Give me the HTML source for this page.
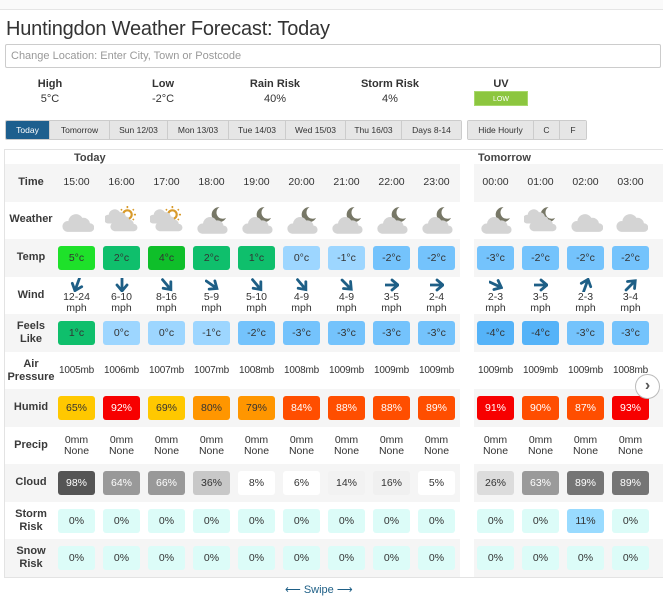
<!DOCTYPE html>
<html><head><meta charset="utf-8"><style>
*{box-sizing:border-box;margin:0;padding:0}
body{width:663px;height:600px;overflow:hidden;background:#fff;font-family:"Liberation Sans",sans-serif;color:#333;position:relative}
.a{position:absolute}
.topbar{left:0;top:0;width:663px;height:10px;border-bottom:1px solid #e5e5e5;background:#fafafa}
h1{position:absolute;left:6px;top:18px;font-size:20px;font-weight:normal;color:#333;letter-spacing:-0.2px}
.inp{left:5px;top:44px;width:656px;height:24px;border:1px solid #ccc;border-radius:2px;font-size:11px;color:#999;padding:5px 0 0 5px}
.st{width:100px;text-align:center;font-size:11px}
.st b{display:block;font-weight:bold;color:#333;margin-bottom:3px}
.uv{left:474px;top:91px;width:54px;height:15px;background:#8cc63f;color:#fff;font-size:7px;text-align:center;line-height:15px;border:1px solid #a8d86b}
.btns{top:120px;height:20px;display:flex;border:1px solid #ccc;border-radius:2px;overflow:hidden}
.btns div{font-size:8.5px;line-height:18px;text-align:center;background:#e6e6e6;border-right:1px solid #ccc;color:#333;white-space:nowrap}
.btns div.on{background:#1d5f8e;color:#fff}
.frame{left:4px;top:149px;width:662px;height:429px;border:1px solid #e3e3e3;border-right:none}
.g1{left:5px;width:455px;background:#f5f5f5}
.g2{left:474px;width:189px;background:#f5f5f5}
.row{left:0;width:663px;height:37.5px}
.lab{position:absolute;left:6px;width:50px;top:0;height:37.5px;display:flex;align-items:center;justify-content:center;text-align:center;font-size:11px;font-weight:bold;color:#3a3a3a;line-height:13px}
.c1,.c2{position:absolute;top:0;height:37.5px;display:flex}
.c1{left:54px}.c2{left:473px}
.c{width:45px;height:37.5px;display:flex;align-items:center;justify-content:center;text-align:center;font-size:10.5px;line-height:11px;color:#333;flex:0 0 45px}
.c span{display:block;width:37px;height:24px;line-height:24px;border-radius:3px;font-size:10.5px}
.p .c{font-size:10px;letter-spacing:-0.2px}
.w{color:#fff}
svg{display:block}
</style></head><body>
<svg width="0" height="0" style="position:absolute">
<defs>
<g id="cl"><path d="M6 24 a5 5 0 0 1 1-10 a7 7 0 0 1 13-3 a6 6 0 0 1 7 5 a4 4 0 0 1 0 8 z" fill="#d4d4d4"/></g>
<g id="sun"><circle cx="20" cy="8" r="4" fill="none" stroke="#d89a2a" stroke-width="2"/><g stroke="#d89a2a" stroke-width="1.5"><line x1="20" y1="0" x2="20" y2="2"/><line x1="26" y1="3" x2="25" y2="4"/><line x1="28" y1="8" x2="26" y2="8"/><line x1="26" y1="13" x2="25" y2="12"/><line x1="14" y1="3" x2="15" y2="4"/></g></g>
<g id="moon"><path d="M22 1 a7 7 0 1 0 6 10 a5.5 5.5 0 1 1 -6 -10z" fill="#777766"/></g>
<g id="ar"><path d="M0 -7 L0 4 M-5 0 L0 6 L5 0" stroke="#1e5f86" stroke-width="2.8" fill="none" stroke-linecap="round"/></g>
</defs></svg>

<div class="a topbar"></div>
<h1>Huntingdon Weather Forecast: Today</h1>
<div class="a inp">Change Location: Enter City, Town or Postcode</div>

<div class="a st" style="left:0;top:78px"><b>High</b>5°C</div>
<div class="a st" style="left:113px;top:78px"><b>Low</b>-2°C</div>
<div class="a st" style="left:225px;top:78px"><b>Rain Risk</b>40%</div>
<div class="a st" style="left:340px;top:78px"><b>Storm Risk</b>4%</div>
<div class="a st" style="left:451px;top:78px"><b>UV</b></div>
<div class="a uv">LOW</div>

<div class="a btns" style="left:5px">
<div class="on" style="width:44px">Today</div><div style="width:60px">Tomorrow</div><div style="width:58px">Sun 12/03</div><div style="width:61px">Mon 13/03</div><div style="width:57px">Tue 14/03</div><div style="width:60px">Wed 15/03</div><div style="width:56px">Thu 16/03</div><div style="width:59px;border-right:none">Days 8-14</div></div>
<div class="a btns" style="left:467px">
<div style="width:66px">Hide Hourly</div><div style="width:26px">C</div><div style="width:26px;border-right:none">F</div></div>

<div class="a frame"></div>
<div class="a" style="left:74px;top:152px;font-size:11px;font-weight:bold;color:#444">Today</div>
<div class="a" style="left:478px;top:152px;font-size:11px;font-weight:bold;color:#444">Tomorrow</div>

<div class="a g1" style="top:164px;height:38px"></div><div class="a g2" style="top:164px;height:38px"></div>
<div class="a g1" style="top:239px;height:38px"></div><div class="a g2" style="top:239px;height:38px"></div>
<div class="a g1" style="top:314px;height:38px"></div><div class="a g2" style="top:314px;height:38px"></div>
<div class="a g1" style="top:389px;height:38px"></div><div class="a g2" style="top:389px;height:38px"></div>
<div class="a g1" style="top:464px;height:38px"></div><div class="a g2" style="top:464px;height:38px"></div>
<div class="a g1" style="top:539px;height:38px"></div><div class="a g2" style="top:539px;height:38px"></div>

<div class="a row" style="top:164px"><div class="lab">Time</div>
<div class="c1"><div class="c">15:00</div><div class="c">16:00</div><div class="c">17:00</div><div class="c">18:00</div><div class="c">19:00</div><div class="c">20:00</div><div class="c">21:00</div><div class="c">22:00</div><div class="c">23:00</div></div>
<div class="c2"><div class="c">00:00</div><div class="c">01:00</div><div class="c">02:00</div><div class="c">03:00</div></div></div>

<div class="a row" style="top:201px"><div class="lab">Weather</div>
<div class="c1">
<div class="c"><svg width="34" height="28" viewBox="0 0 30 26"><use href="#cl"/></svg></div>
<div class="c"><svg width="34" height="28" viewBox="0 0 30 26"><use href="#sun"/><use href="#cl" transform="translate(-3,-3) scale(.8)"/><use href="#cl" transform="translate(3,3) scale(.85)"/></svg></div>
<div class="c"><svg width="34" height="28" viewBox="0 0 30 26"><use href="#sun"/><use href="#cl" transform="translate(-3,-3) scale(.8)"/><use href="#cl" transform="translate(3,3) scale(.85)"/></svg></div>
<div class="c"><svg width="34" height="28" viewBox="0 0 30 26"><use href="#moon"/><use href="#cl" transform="translate(0,3) scale(.95)"/></svg></div>
<div class="c"><svg width="34" height="28" viewBox="0 0 30 26"><use href="#moon"/><use href="#cl" transform="translate(0,3) scale(.95)"/></svg></div>
<div class="c"><svg width="34" height="28" viewBox="0 0 30 26"><use href="#moon"/><use href="#cl" transform="translate(0,3) scale(.95)"/></svg></div>
<div class="c"><svg width="34" height="28" viewBox="0 0 30 26"><use href="#moon"/><use href="#cl" transform="translate(0,3) scale(.95)"/></svg></div>
<div class="c"><svg width="34" height="28" viewBox="0 0 30 26"><use href="#moon"/><use href="#cl" transform="translate(0,3) scale(.95)"/></svg></div>
<div class="c"><svg width="34" height="28" viewBox="0 0 30 26"><use href="#moon"/><use href="#cl" transform="translate(0,3) scale(.95)"/></svg></div></div>
<div class="c2">
<div class="c"><svg width="34" height="28" viewBox="0 0 30 26"><use href="#moon"/><use href="#cl" transform="translate(0,3) scale(.95)"/></svg></div>
<div class="c"><svg width="34" height="28" viewBox="0 0 30 26"><use href="#moon"/><use href="#cl" transform="translate(-3,-3) scale(.8)"/><use href="#cl" transform="translate(3,3) scale(.85)"/></svg></div>
<div class="c"><svg width="34" height="28" viewBox="0 0 30 26"><use href="#cl"/></svg></div>
<div class="c"><svg width="34" height="28" viewBox="0 0 30 26"><use href="#cl"/></svg></div></div></div>

<div class="a row" style="top:239px"><div class="lab">Temp</div>
<div class="c1"><div class="c"><span style="background:#1ee12a">5°c</span></div><div class="c"><span style="background:#0fbf6c">2°c</span></div><div class="c"><span style="background:#0fbf2a">4°c</span></div><div class="c"><span style="background:#0fbf6c">2°c</span></div><div class="c"><span style="background:#0fbf6c">1°c</span></div><div class="c"><span style="background:#9dd6ff">0°c</span></div><div class="c"><span style="background:#9dd6ff">-1°c</span></div><div class="c"><span style="background:#74c3fc">-2°c</span></div><div class="c"><span style="background:#74c3fc">-2°c</span></div></div>
<div class="c2"><div class="c"><span style="background:#74c3fc">-3°c</span></div><div class="c"><span style="background:#74c3fc">-2°c</span></div><div class="c"><span style="background:#74c3fc">-2°c</span></div><div class="c"><span style="background:#74c3fc">-2°c</span></div></div></div>

<div class="a row" style="top:277px"><div class="lab">Wind</div>
<div class="c1">
<div class="c" style="flex-direction:column"><svg width="14" height="14"><use href="#ar" transform="translate(7,7) rotate(20)"/></svg>12-24<br>mph</div>
<div class="c" style="flex-direction:column"><svg width="14" height="14"><use href="#ar" transform="translate(7,7) rotate(0)"/></svg>6-10<br>mph</div>
<div class="c" style="flex-direction:column"><svg width="14" height="14"><use href="#ar" transform="translate(7,7) rotate(-40)"/></svg>8-16<br>mph</div>
<div class="c" style="flex-direction:column"><svg width="14" height="14"><use href="#ar" transform="translate(7,7) rotate(-55)"/></svg>5-9<br>mph</div>
<div class="c" style="flex-direction:column"><svg width="14" height="14"><use href="#ar" transform="translate(7,7) rotate(-40)"/></svg>5-10<br>mph</div>
<div class="c" style="flex-direction:column"><svg width="14" height="14"><use href="#ar" transform="translate(7,7) rotate(-40)"/></svg>4-9<br>mph</div>
<div class="c" style="flex-direction:column"><svg width="14" height="14"><use href="#ar" transform="translate(7,7) rotate(-45)"/></svg>4-9<br>mph</div>
<div class="c" style="flex-direction:column"><svg width="14" height="14"><use href="#ar" transform="translate(7,7) rotate(-90)"/></svg>3-5<br>mph</div>
<div class="c" style="flex-direction:column"><svg width="14" height="14"><use href="#ar" transform="translate(7,7) rotate(-90)"/></svg>2-4<br>mph</div></div>
<div class="c2">
<div class="c" style="flex-direction:column"><svg width="14" height="14"><use href="#ar" transform="translate(7,7) rotate(-65)"/></svg>2-3<br>mph</div>
<div class="c" style="flex-direction:column"><svg width="14" height="14"><use href="#ar" transform="translate(7,7) rotate(-90)"/></svg>3-5<br>mph</div>
<div class="c" style="flex-direction:column"><svg width="14" height="14"><use href="#ar" transform="translate(7,7) rotate(-160)"/></svg>2-3<br>mph</div>
<div class="c" style="flex-direction:column"><svg width="14" height="14"><use href="#ar" transform="translate(7,7) rotate(-135)"/></svg>3-4<br>mph</div></div></div>

<div class="a row" style="top:314px"><div class="lab">Feels<br>Like</div>
<div class="c1"><div class="c"><span style="background:#0fbf6c">1°c</span></div><div class="c"><span style="background:#9dd6ff">0°c</span></div><div class="c"><span style="background:#9dd6ff">0°c</span></div><div class="c"><span style="background:#9dd6ff">-1°c</span></div><div class="c"><span style="background:#74c3fc">-2°c</span></div><div class="c"><span style="background:#74c3fc">-3°c</span></div><div class="c"><span style="background:#74c3fc">-3°c</span></div><div class="c"><span style="background:#74c3fc">-3°c</span></div><div class="c"><span style="background:#74c3fc">-3°c</span></div></div>
<div class="c2"><div class="c"><span style="background:#55b3f8">-4°c</span></div><div class="c"><span style="background:#55b3f8">-4°c</span></div><div class="c"><span style="background:#74c3fc">-3°c</span></div><div class="c"><span style="background:#74c3fc">-3°c</span></div></div></div>

<div class="a row p" style="top:352px"><div class="lab">Air<br>Pressure</div>
<div class="c1"><div class="c">1005mb</div><div class="c">1006mb</div><div class="c">1007mb</div><div class="c">1007mb</div><div class="c">1008mb</div><div class="c">1008mb</div><div class="c">1009mb</div><div class="c">1009mb</div><div class="c">1009mb</div></div>
<div class="c2"><div class="c">1009mb</div><div class="c">1009mb</div><div class="c">1009mb</div><div class="c">1008mb</div></div></div>

<div class="a row" style="top:389px"><div class="lab">Humid</div>
<div class="c1"><div class="c"><span style="background:#ffc800">65%</span></div><div class="c"><span class="w" style="background:#f70000">92%</span></div><div class="c"><span style="background:#ffc800">69%</span></div><div class="c"><span style="background:#ff9600">80%</span></div><div class="c"><span style="background:#ff9600">79%</span></div><div class="c"><span class="w" style="background:#ff4e00">84%</span></div><div class="c"><span class="w" style="background:#ff4e00">88%</span></div><div class="c"><span class="w" style="background:#ff4e00">88%</span></div><div class="c"><span class="w" style="background:#ff4e00">89%</span></div></div>
<div class="c2"><div class="c"><span class="w" style="background:#f70000">91%</span></div><div class="c"><span class="w" style="background:#ff4e00">90%</span></div><div class="c"><span class="w" style="background:#ff4e00">87%</span></div><div class="c"><span class="w" style="background:#f70000">93%</span></div></div></div>

<div class="a row" style="top:427px"><div class="lab">Precip</div>
<div class="c1"><div class="c">0mm<br>None</div><div class="c">0mm<br>None</div><div class="c">0mm<br>None</div><div class="c">0mm<br>None</div><div class="c">0mm<br>None</div><div class="c">0mm<br>None</div><div class="c">0mm<br>None</div><div class="c">0mm<br>None</div><div class="c">0mm<br>None</div></div>
<div class="c2"><div class="c">0mm<br>None</div><div class="c">0mm<br>None</div><div class="c">0mm<br>None</div><div class="c">0mm<br>None</div></div></div>

<div class="a row" style="top:464px"><div class="lab">Cloud</div>
<div class="c1"><div class="c"><span class="w" style="background:#555">98%</span></div><div class="c"><span class="w" style="background:#999">64%</span></div><div class="c"><span class="w" style="background:#999">66%</span></div><div class="c"><span style="background:#c8c8c8">36%</span></div><div class="c"><span style="background:#fff">8%</span></div><div class="c"><span style="background:#fff">6%</span></div><div class="c"><span style="background:#f2f2f2">14%</span></div><div class="c"><span style="background:#f0f0f0">16%</span></div><div class="c"><span style="background:#fff">5%</span></div></div>
<div class="c2"><div class="c"><span style="background:#dcdcdc">26%</span></div><div class="c"><span class="w" style="background:#9a9a9a">63%</span></div><div class="c"><span class="w" style="background:#757575">89%</span></div><div class="c"><span class="w" style="background:#757575">89%</span></div></div></div>

<div class="a row" style="top:502px"><div class="lab">Storm<br>Risk</div>
<div class="c1"><div class="c"><span style="background:#dcfcf8">0%</span></div><div class="c"><span style="background:#dcfcf8">0%</span></div><div class="c"><span style="background:#dcfcf8">0%</span></div><div class="c"><span style="background:#dcfcf8">0%</span></div><div class="c"><span style="background:#dcfcf8">0%</span></div><div class="c"><span style="background:#dcfcf8">0%</span></div><div class="c"><span style="background:#dcfcf8">0%</span></div><div class="c"><span style="background:#dcfcf8">0%</span></div><div class="c"><span style="background:#dcfcf8">0%</span></div></div>
<div class="c2"><div class="c"><span style="background:#dcfcf8">0%</span></div><div class="c"><span style="background:#dcfcf8">0%</span></div><div class="c"><span style="background:#99dbff">11%</span></div><div class="c"><span style="background:#dcfcf8">0%</span></div></div></div>

<div class="a row" style="top:539px"><div class="lab">Snow<br>Risk</div>
<div class="c1"><div class="c"><span style="background:#dcfcf8">0%</span></div><div class="c"><span style="background:#dcfcf8">0%</span></div><div class="c"><span style="background:#dcfcf8">0%</span></div><div class="c"><span style="background:#dcfcf8">0%</span></div><div class="c"><span style="background:#dcfcf8">0%</span></div><div class="c"><span style="background:#dcfcf8">0%</span></div><div class="c"><span style="background:#dcfcf8">0%</span></div><div class="c"><span style="background:#dcfcf8">0%</span></div><div class="c"><span style="background:#dcfcf8">0%</span></div></div>
<div class="c2"><div class="c"><span style="background:#dcfcf8">0%</span></div><div class="c"><span style="background:#dcfcf8">0%</span></div><div class="c"><span style="background:#dcfcf8">0%</span></div><div class="c"><span style="background:#dcfcf8">0%</span></div></div></div>

<div class="a" style="left:635px;top:374px;width:25px;height:25px;border-radius:50%;background:#fff;border:1px solid #bbb;font-size:16px;line-height:22px;text-align:center;color:#555;font-weight:bold">›</div>

<div class="a" style="left:285px;top:583px;font-size:11px;color:#1e5f86;white-space:nowrap">⟵ Swipe ⟶</div>
</body></html>
